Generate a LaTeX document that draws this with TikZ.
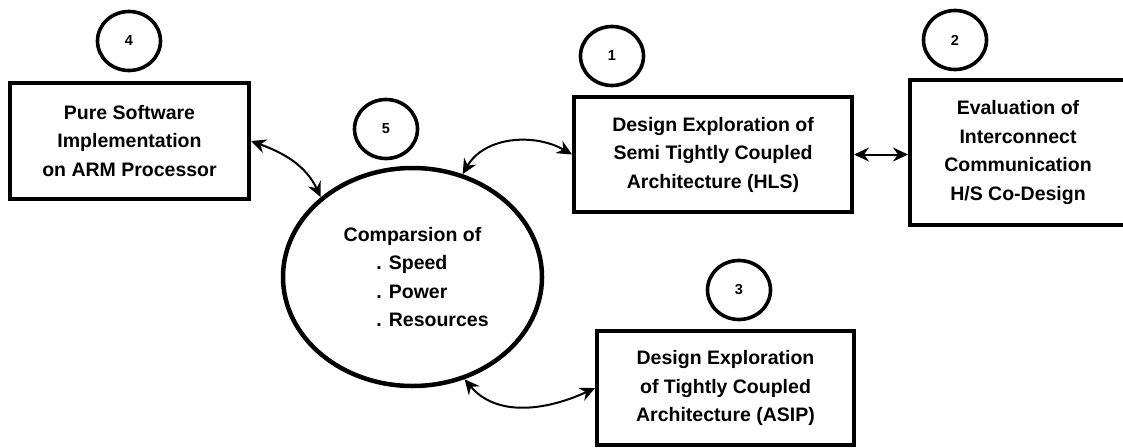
\documentclass[tikz,border=0pt]{standalone}
\usepackage{fontspec}
\setmainfont{Liberation Sans}
\usetikzlibrary{shapes.geometric,arrows.meta}

\tikzset{
  stagebox/.style={draw, line width=4pt, rectangle, inner sep=0pt, align=center,
    font=\fontsize{19.5}{28.5}\selectfont\bfseries},
  numcirc/.style={draw, line width=3.6pt, ellipse, minimum width=63pt, minimum height=59pt,
    inner sep=0pt, font=\fontsize{14.5}{16}\selectfont\bfseries},
  hubell/.style={draw, line width=4.5pt, ellipse, minimum width=259pt, minimum height=218pt,
    inner sep=0pt, align=center, font=\fontsize{19.5}{28.5}\selectfont\bfseries},
  tip/.style={Stealth[length=15pt,width=14pt,inset=5pt]},
  link/.style={line width=2pt, {Stealth[length=15pt,width=14pt,inset=5pt]}-{Stealth[length=15pt,width=14pt,inset=5pt]}}
}

\newcommand{\listitem}[1]{\hspace*{38pt}\makebox[110.5pt][l]{#1}}

\begin{document}
\begin{tikzpicture}[x=1pt,y=1pt]
  \useasboundingbox (0,0) rectangle (1123,-447);

  % stage boxes
  \node[stagebox, minimum width=239pt, minimum height=116pt] (sw) at (129.5,-141)
    {Pure Software\\Implementation\\on ARM Processor};
  \node[stagebox, minimum width=278pt, minimum height=115pt] (hls) at (713,-154.5)
    {Design Exploration of\\Semi Tightly Coupled\\Architecture (HLS)};
  \node[stagebox, minimum width=216pt, minimum height=145pt] (icc) at (1018,-152.5)
    {Evaluation of\\Interconnect\\Communication\\H/S Co-Design};
  \node[stagebox, minimum width=257pt, minimum height=114pt] (asip) at (725.5,-388)
    {Design Exploration\\of Tightly Coupled\\Architecture (ASIP)};

  % comparison hub
  \node[hubell] (cmp) at (412.5,-277)
    {Comparsion of\\\listitem{. Speed}\\\listitem{. Power}\\\listitem{. Resources}};

  % step numbers
  \node[numcirc] (n4) at (129,-41) {4};
  \node[numcirc] (n5) at (386,-129) {5};
  \node[numcirc] (n1) at (612,-56) {1};
  \node[numcirc] (n2) at (955,-40) {2};
  \node[numcirc] (n3) at (739,-290) {3};

  % connectors
  \draw[link] (sw.east) to[out=-20,in=115] (cmp.139);
  \draw[link] (cmp.64) to[out=60,in=150] (hls.west);
  \draw[link] (hls.east) -- (hls.east -| icc.west);
  \draw[link] (cmp.-63) to[out=-50,in=205] (asip.west);
\end{tikzpicture}
\end{document}
